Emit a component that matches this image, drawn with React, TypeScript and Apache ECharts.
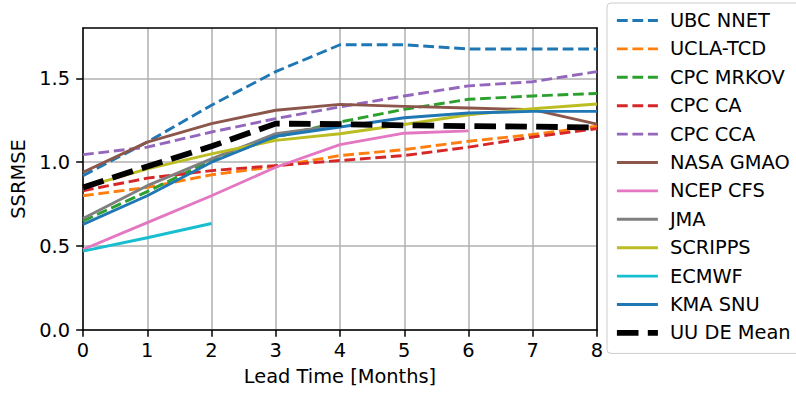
import React, { useEffect, useRef } from "react";
import * as echarts from "echarts";

const months = [0, 1, 2, 3, 4, 5, 6, 7, 8];
const yTicks = [0, 0.5, 1.0, 1.5];

const ubcNnet = [0.92, 1.12, 1.34, 1.54, 1.70, 1.70, 1.675, 1.675, 1.675];
const uclaTcd = [0.80, 0.85, 0.925, 0.975, 1.04, 1.075, 1.125, 1.165, 1.215];
const cpcMrkov = [0.65, 0.825, 1.01, 1.15, 1.24, 1.315, 1.375, 1.395, 1.41];
const cpcCa = [0.83, 0.905, 0.95, 0.98, 1.01, 1.04, 1.09, 1.15, 1.20];
const cpcCca = [1.045, 1.09, 1.18, 1.26, 1.33, 1.395, 1.455, 1.48, 1.54];
const nasaGmao = [0.94, 1.12, 1.23, 1.31, 1.345, 1.333, 1.323, 1.313, 1.227];
const ncepCfs = [0.48, 0.64, 0.80, 0.97, 1.105, 1.173, 1.187];
const jma = [0.665, 0.86, 1.02, 1.17, 1.22];
const scripps = [0.85, 0.96, 1.05, 1.13, 1.17, 1.225, 1.283, 1.319, 1.347];
const ecmwf = [0.47, 0.55, 0.635];
const kmaSnu = [0.63, 0.80, 1.00, 1.155, 1.21, 1.265, 1.293, 1.303, 1.303];
const uuDeMean = [0.85, 0.975, 1.095, 1.23, 1.227, 1.22, 1.215, 1.212, 1.207];

const seriesDefs = [
  { name: "UBC NNET", values: ubcNnet, color: "#1f77b4", dashed: true },
  { name: "UCLA-TCD", values: uclaTcd, color: "#ff7f0e", dashed: true },
  { name: "CPC MRKOV", values: cpcMrkov, color: "#2ca02c", dashed: true },
  { name: "CPC CA", values: cpcCa, color: "#d62728", dashed: true },
  { name: "CPC CCA", values: cpcCca, color: "#9467bd", dashed: true },
  { name: "NASA GMAO", values: nasaGmao, color: "#8c564b", dashed: false },
  { name: "NCEP CFS", values: ncepCfs, color: "#e377c2", dashed: false },
  { name: "JMA", values: jma, color: "#7f7f7f", dashed: false },
  { name: "SCRIPPS", values: scripps, color: "#bcbd22", dashed: false },
  { name: "ECMWF", values: ecmwf, color: "#17becf", dashed: false },
  { name: "KMA SNU", values: kmaSnu, color: "#1f77b4", dashed: false },
  { name: "UU DE Mean", values: uuDeMean, color: "#000000", dashed: true, thick: true },
];

const FONT = "DejaVu Sans";
const FS = 19.4;

export default function App() {
  const ref = useRef<HTMLDivElement>(null);
  useEffect(() => {
    if (!ref.current) return;
    const chart = echarts.init(ref.current, undefined, { renderer: "svg" });
    const series = seriesDefs.map((s: any) => ({
      name: s.name,
      type: "line",
      data: s.values.map((v: number, i: number) => [months[i], v]),
      symbol: "none",
      showSymbol: false,
      xAxisIndex: 0,
      yAxisIndex: 0,
      lineStyle: {
        color: s.color,
        width: s.thick ? 5.8 : 2.9,
        type: s.dashed ? (s.thick ? [21.6, 9.3] : [10.8, 4.7]) : "solid",
        cap: "butt",
        join: "round",
      },
      itemStyle: { color: s.color },
      emphasis: { disabled: true },
    }));
    chart.setOption({
      animation: false,
      backgroundColor: "#ffffff",
      grid: { left: 83, right: 199, top: 28, bottom: 66, containLabel: false },
      xAxis: [
        {
          type: "value",
          min: 0,
          max: 8,
          interval: 1,
          name: "Lead Time [Months]",
          nameLocation: "middle",
          nameGap: 37,
          nameTextStyle: { fontFamily: FONT, fontSize: FS, color: "#000" },
          axisLine: { show: true, onZero: false, lineStyle: { color: "#000", width: 1.5 } },
          axisTick: { show: true, length: 6.8, lineStyle: { color: "#000", width: 1.5 } },
          axisLabel: { margin: 11, fontFamily: FONT, fontSize: FS, color: "#000" },
          splitLine: { show: true, lineStyle: { color: "#b0b0b0", width: 1.5 } },
        },
        {
          type: "value",
          position: "top",
          min: 0,
          max: 8,
          interval: 1,
          axisLine: { show: true, onZero: false, lineStyle: { color: "#000", width: 1.5 } },
          axisTick: { show: false },
          axisLabel: { show: false },
          splitLine: { show: false },
        },
      ],
      yAxis: [
        {
          type: "value",
          min: 0,
          max: 1.8,
          interval: 0.5,
          name: "SSRMSE",
          nameLocation: "middle",
          nameGap: 55,
          nameTextStyle: { fontFamily: FONT, fontSize: FS, color: "#000" },
          axisLine: { show: true, onZero: false, lineStyle: { color: "#000", width: 1.5 } },
          axisTick: { show: true, length: 6.8, customValues: yTicks, lineStyle: { color: "#000", width: 1.5 } },
          axisLabel: {
            margin: 13,
            customValues: yTicks,
            fontFamily: FONT,
            fontSize: FS,
            color: "#000",
            formatter: (v: number) => v.toFixed(1),
          },
          splitLine: { show: true, lineStyle: { color: "#b0b0b0", width: 1.5 } },
        },
        {
          type: "value",
          position: "right",
          min: 0,
          max: 1.8,
          axisLine: { show: true, onZero: false, lineStyle: { color: "#000", width: 1.5 } },
          axisTick: { show: false },
          axisLabel: { show: false },
          splitLine: { show: false },
        },
      ],
      legend: {
        orient: "vertical",
        left: 607,
        top: 3,
        padding: [8, 40, 11, 7],
        itemWidth: 41,
        itemHeight: 19,
        itemGap: 9.4,
        backgroundColor: "rgba(255,255,255,0.8)",
        borderColor: "#cccccc",
        borderWidth: 1,
        borderRadius: 4,
        selectedMode: false,
        itemStyle: { opacity: 0, borderWidth: 0 },
        lineStyle: { width: "inherit", type: "inherit", color: "inherit" },
        textStyle: {
          fontFamily: FONT,
          fontSize: FS,
          color: "#000",
          lineHeight: 19,
          padding: [0, 0, 0, 7],
        },
        data: seriesDefs.map((s) => s.name),
      },
      series,
    });
    return () => chart.dispose();
  }, []);
  return (
    <div
      ref={ref}
      style={{ position: "fixed", left: 0, top: 0, width: 796, height: 396, background: "#fff" }}
    />
  );
}
